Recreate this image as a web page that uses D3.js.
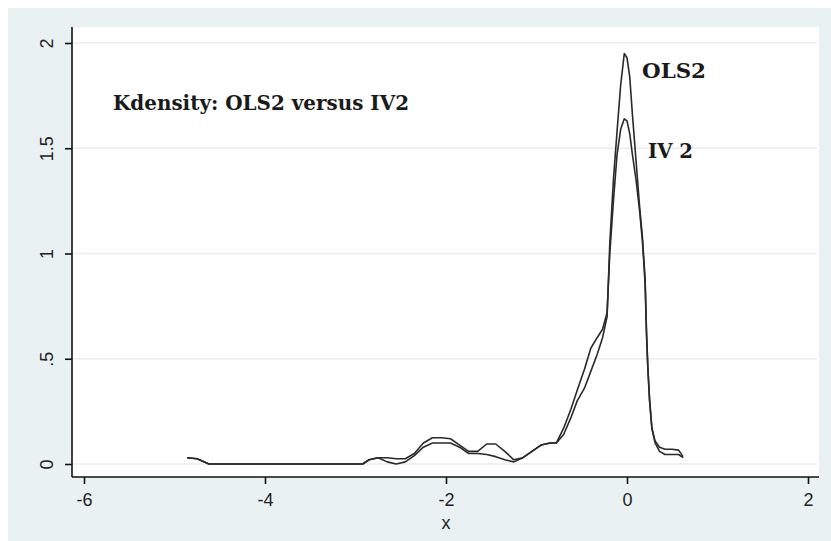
<!DOCTYPE html>
<html>
<head>
<meta charset="utf-8">
<script src="https://cdn.jsdelivr.net/npm/d3@7"></script>
<style>
  body { margin: 0; background: #fff; }
  svg { display: block; }
</style>
</head>
<body>
<svg width="831" height="541"></svg>
<script>
// kernel density estimates
var xs = [-4.86, -4.75, -4.62, -4.0, -3.5, -2.92, -2.85, -2.75, -2.65, -2.55, -2.45, -2.35, -2.25, -2.15, -2.05, -1.95,
          -1.85, -1.75, -1.65, -1.55, -1.45, -1.35, -1.25, -1.15, -1.05, -0.95, -0.85, -0.78, -0.7, -0.62, -0.55, -0.47,
          -0.4, -0.33, -0.27, -0.22, -0.19, -0.15, -0.11, -0.07, -0.03, 0.0, 0.03, 0.06, 0.1, 0.14, 0.17, 0.2, 0.215,
          0.23, 0.25, 0.275, 0.31, 0.36, 0.42, 0.5, 0.57, 0.62];

var ols2 = [0.03, 0.025, 0, 0, 0, 0, 0.02, 0.03, 0.01, 0, 0.01, 0.04, 0.08, 0.10, 0.10, 0.10,
            0.08, 0.05, 0.05, 0.045, 0.035, 0.02, 0.01, 0.03, 0.06, 0.09, 0.10, 0.10, 0.14, 0.22, 0.30, 0.36,
            0.44, 0.52, 0.60, 0.70, 1.05, 1.35, 1.58, 1.80, 1.95, 1.93, 1.84, 1.66, 1.44, 1.22, 1.08, 0.88, 0.64,
            0.46, 0.30, 0.17, 0.10, 0.06, 0.045, 0.045, 0.045, 0.03];

var iv2 = [0.03, 0.025, 0, 0, 0, 0, 0.02, 0.03, 0.03, 0.025, 0.025, 0.05, 0.10, 0.125, 0.125, 0.12,
           0.09, 0.06, 0.06, 0.095, 0.095, 0.06, 0.02, 0.03, 0.06, 0.09, 0.10, 0.10, 0.17, 0.26, 0.35, 0.45,
           0.55, 0.60, 0.64, 0.72, 1.0, 1.25, 1.47, 1.59, 1.64, 1.63, 1.57, 1.47, 1.35, 1.20, 1.06, 0.86, 0.62,
           0.46, 0.30, 0.17, 0.11, 0.08, 0.07, 0.07, 0.066, 0.035];

var xTicks = [-6, -4, -2, 0, 2];
var yTicks = [0, 0.5, 1, 1.5, 2];
var yTickLabels = ["0", ".5", "1", "1.5", "2"];

var svg = d3.select("svg"),
    plot = {left: 72, right: 819, top: 27, bottom: 477};

var x = d3.scaleLinear().domain([-6, 2]).range([84, 808]),
    y = d3.scaleLinear().domain([0, 2]).range([464, 43]);

// outer panel + white plot region
svg.append("rect").attr("x", 8).attr("y", 8).attr("width", 823).attr("height", 533).attr("fill", "#eaf1f3");
svg.append("rect")
    .attr("x", plot.left).attr("y", plot.top)
    .attr("width", plot.right - plot.left).attr("height", plot.bottom - plot.top)
    .attr("fill", "#fff");

// grid
svg.append("g").selectAll("line")
    .data(yTicks)
    .enter().append("line")
    .attr("x1", plot.left).attr("x2", plot.right - 2)
    .attr("y1", function(d) { return y(d); })
    .attr("y2", function(d) { return y(d); })
    .attr("stroke", "#e9eded")
    .attr("stroke-width", 1.5);

var xAxis = d3.axisBottom(x).tickValues(xTicks).tickSize(7).tickSizeOuter(0)
    .tickFormat(function(d) { return d < 0 ? "-" + Math.abs(d) : d; });
var yAxis = d3.axisLeft(y).tickValues(yTicks).tickSize(7).tickSizeOuter(0)
    .tickFormat(function(d, i) { return yTickLabels[i]; });

var xAxisGroup = svg.append("g").attr("transform", "translate(0," + plot.bottom + ")").call(xAxis);
xAxisGroup.select(".domain").attr("d", "M" + plot.left + ",0H" + plot.right);
var yAxisGroup = svg.append("g").attr("transform", "translate(" + plot.left + ",0)").call(yAxis);
yAxisGroup.select(".domain").attr("d", "M0," + plot.top + "V" + plot.bottom);

svg.selectAll(".domain, .tick line").attr("stroke", "#111").attr("stroke-width", 1.6);
svg.selectAll(".tick text")
    .attr("fill", "#222")
    .style("font-family", "Liberation Sans, Arial, sans-serif")
    .style("font-size", "18px");
xAxisGroup.selectAll(".tick text").attr("y", 11).attr("dy", "1em");
yAxisGroup.selectAll(".tick text")
    .attr("text-anchor", "middle")
    .attr("transform", "rotate(-90)")
    .attr("x", 0).attr("y", -19).attr("dy", 0);

svg.append("text")
    .attr("x", x(-2)).attr("y", 529)
    .attr("text-anchor", "middle")
    .style("font-family", "Liberation Sans, Arial, sans-serif")
    .style("font-size", "18px")
    .attr("fill", "#222")
    .text("x");

// density lines
var line = d3.line()
    .x(function(d) { return x(d[0]); })
    .y(function(d) { return y(d[1]); });

[ols2, iv2].forEach(function(vals) {
    svg.append("path")
        .datum(xs.map(function(v, i) { return [v, vals[i]]; }))
        .attr("fill", "none")
        .attr("stroke", "#2a2a2a")
        .attr("stroke-width", 1.6)
        .attr("stroke-linejoin", "round")
        .attr("d", line);
});

// annotations
var serif = "DejaVu Serif, Liberation Serif, serif";
function note(tx, ty, len, label) {
    svg.append("text").attr("x", tx).attr("y", ty)
        .style("font-family", serif).style("font-weight", "bold").style("font-size", "20px")
        .attr("textLength", len)
        .attr("lengthAdjust", "spacingAndGlyphs")
        .attr("fill", "#1a1a1a")
        .text(label);
}
note(113, 110, 296, "Kdensity: OLS2 versus IV2");
note(642, 78, 64, "OLS2");
note(648, 158, 45, "IV 2");
</script>
</body>
</html>
